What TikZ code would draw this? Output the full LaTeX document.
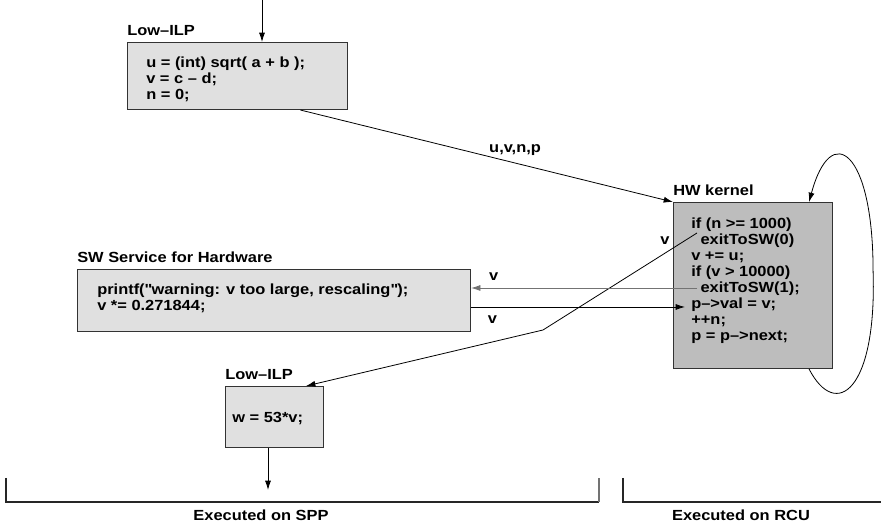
\documentclass[tikz,border=0pt]{standalone}
\usepackage{fontspec}
\setmainfont{Liberation Sans}[FakeStretch=1.12]
\usetikzlibrary{arrows.meta, positioning, calc}
\tikzset{
  box/.style={rectangle, draw=black!80, line width=0.8pt, fill=black!12,
              anchor=north west, inner sep=0pt},
  hwbox/.style={box, fill=black!26},
  code/.style={anchor=north west, inner sep=0pt, align=left,
               font=\fontsize{11}{12}\selectfont\bfseries},
  head/.style={anchor=base west, inner sep=0pt, font=\fontsize{11}{12}\selectfont\bfseries},
  lbl/.style={inner sep=2pt, font=\fontsize{11}{12}\selectfont\bfseries},
  fl/.style={-{Latex[length=7pt,width=4.5pt]}, line width=0.6pt, draw=black},
  gfl/.style={fl, draw=black!55},
  brk/.style={line width=0.8pt, draw=black!85}
}

\begin{document}
\begin{tikzpicture}[x=0.75pt, y=0.75pt]
\useasboundingbox (0,0) rectangle (881,527);
% boxes
\node[box, minimum width=165pt, minimum height=50.25pt] (lilp) at (127,485) {};
\node[hwbox, minimum width=119.25pt, minimum height=124.5pt] (hw) at (673,325) {};
\node[box, minimum width=294.75pt, minimum height=46.5pt] (sw) at (77,258) {};
\node[box, minimum width=73.5pt, minimum height=45.75pt] (wilp) at (225,141) {};
% headings
\node[head] (lilph) at ($(lilp.north west)+(0,6)$) {Low--ILP};
\node[head] (hwh) at ($(hw.north west)+(0,6)$) {HW kernel};
\node[head] (swh) at ($(sw.north west)+(0,6)$) {SW Service for Hardware};
\node[head] (wilph) at ($(wilp.north west)+(0,6)$) {Low--ILP};
% code
\node[code] (lilpc) at ($(lilp.north west)+(19,-14.5)$)
  {u = (int) sqrt( a + b );\\v = c -- d;\\n = 0;};
\node[code] (hwc) at ($(hw.north west)+(18,-15.5)$)
  {if (n >= 1000)\\\hspace*{7pt}exitToSW(0)\\v += u;\\if (v > 10000)\\\hspace*{7pt}exitToSW(1);\\p-->val = v;\\++n;\\p = p-->next;};
\node[code] (swc) at ($(sw.north west)+(20,-14.5)$)
  {printf(\textquotedbl warning: v too large, rescaling\textquotedbl);\\v *= 0.271844;};
\node[code] (wilpc) at ($(wilp.north west)+(7,-25.5)$) {w = 53*v;};
% points inside the kernel
\coordinate (exit0) at ($(hw.north west)+(24,-31)$);
\coordinate (exit1) at ($(hw.north west)+(24,-86)$);
\coordinate (hwin) at ($(hw.north west)+(12,-105)$);
\coordinate (kink) at (543,197);
\coordinate (win) at (262,527);
\coordinate (wout) at (268,37);
% connectors
\draw[fl] (win) -- (win |- lilp.north);
\draw[fl] ($(lilp.south)+(63,0)$) -- node[lbl, above=3pt, pos=0.576]{u,v,n,p} (hw.north west);
\draw[fl] (exit0) -- (kink) -- ($(wilp.north east)+(-18,0)$);
\node[lbl] (vlab) at (665,286) {v};
\draw[gfl] (exit1) -- node[lbl, above=3pt, pos=0.9, text=black]{v} (exit1 -| sw.east);
\draw[fl] (sw.east |- hwin) -- node[lbl, below=4pt, pos=0.1]{v} (hwin);
\draw[fl] (wout |- wilp.south) -- (wout);
\draw[fl] ($(hw.south east)+(-24,0)$) .. controls +(27,-52) and +(4,-120) .. ($(hw.east)+(40,15)$)
  .. controls +(0,120) and +(22,82) .. ($(hw.north east)+(-24,0)$);
% execution brackets
\draw[brk] (6,49) -- (6,25) -- (599,25);
\draw[brk, draw=black!55] (599,25) -- (599,49);
\draw[brk] (623,49) -- (623,25) -- (881,25);
\node[lbl] (spp) at (261,12) {Executed on SPP};
\node[lbl] (rcu) at (741,12) {Executed on RCU};
\end{tikzpicture}
\end{document}
